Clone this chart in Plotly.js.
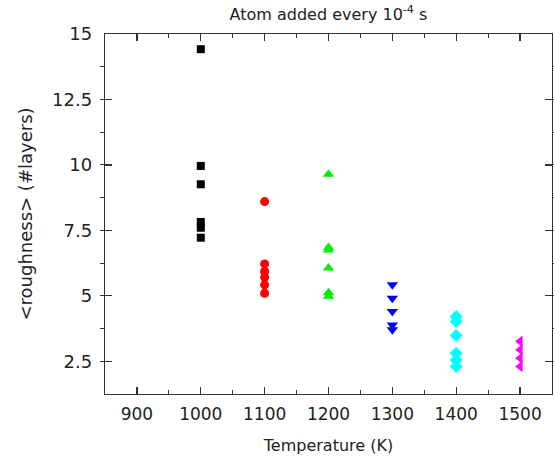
<!DOCTYPE html>
<html>
<head>
<meta charset="utf-8">
<script src="https://cdn.plot.ly/plotly-3.0.1.min.js"></script>
<style>html,body{margin:0;padding:0;background:#fff;}#chart{width:554px;height:456px;}</style>
</head>
<body>
<div id="chart"></div>
<script>
// Temperatures (K) for each series
const temps = [1000, 1100, 1200, 1300, 1400, 1500];
// roughness values (#layers)
const rough1000 = [14.42, 9.96, 9.26, 7.82, 7.6, 7.22];
const rough1100 = [8.6, 6.22, 5.93, 5.71, 5.42, 5.1];
const rough1200 = [9.64, 6.85, 6.75, 6.06, 5.12, 4.98];
const rough1300 = [5.42, 4.91, 4.4, 3.89, 3.7];
const rough1400 = [4.21, 4.02, 3.48, 2.81, 2.55, 2.3];
const rough1500 = [3.26, 2.94, 2.62, 2.3];
const xTicks = [900, 1000, 1100, 1200, 1300, 1400, 1500];
const yTicks = [2.5, 5, 7.5, 10, 12.5, 15];
const yTickText = ['2.5', '5', '7.5', '10', '12.5', '15'];

const allY = [rough1000, rough1100, rough1200, rough1300, rough1400, rough1500];
const styles = [
  {symbol: 'square', color: '#000000', size: 8},
  {symbol: 'circle', color: '#ff0000', size: 9},
  {symbol: 'triangle-up', color: '#00ee00', size: 10},
  {symbol: 'triangle-down', color: '#0000ff', size: 10},
  {symbol: 'diamond', color: '#00ffff', size: 10},
  {symbol: 'triangle-left', color: '#ff00ff', size: 10}
];

const traces = allY.map((ys, i) => ({
  x: ys.map(() => temps[i]),
  y: ys,
  type: 'scatter',
  mode: 'markers',
  marker: {symbol: styles[i].symbol, color: styles[i].color, size: styles[i].size, line: {width: 0}},
  showlegend: false,
  hoverinfo: 'x+y'
}));

const font = 'DejaVu Sans, Liberation Sans, sans-serif';
const layout = {
  width: 554, height: 456,
  margin: {l: 105, r: 2, t: 34, b: 62},
  paper_bgcolor: '#fff', plot_bgcolor: '#fff',
  font: {family: font, color: '#222'},
  title: {text: 'Atom added every 10<sup>-4</sup> s', font: {size: 16, family: font, color: '#222'}, xref: 'paper', x: 0.5, xanchor: 'center', y: 0.968, yanchor: 'middle'},
  xaxis: {
    range: [850, 1550],
    tickvals: xTicks,
    ticktext: xTicks.map(String),
    ticks: 'inside', ticklen: 7, tickwidth: 1.2, tickcolor: '#333',
    minor: {dtick: 50, tick0: 850, ticks: 'inside', ticklen: 4, tickcolor: '#333', tickwidth: 1},
    showline: true, linecolor: '#333', linewidth: 1.3, mirror: 'allticks',
    showgrid: false, zeroline: false,
    tickfont: {size: 17, family: font, color: '#222'},
    ticklabelstandoff: 4,
    title: {text: 'Temperature (K)', font: {size: 16, family: font, color: '#222'}, standoff: 17}
  },
  yaxis: {
    range: [1.25, 15],
    tickvals: yTicks,
    ticktext: yTickText,
    ticks: 'inside', ticklen: 7, tickwidth: 1.2, tickcolor: '#333',
    minor: {dtick: 1.25, tick0: 1.25, ticks: 'outside', ticklen: 4, tickcolor: '#333', tickwidth: 1},
    showline: true, linecolor: '#333', linewidth: 1.3, mirror: 'allticks',
    showgrid: false, zeroline: false,
    tickfont: {size: 18, family: font, color: '#222'},
    ticklabelstandoff: 8,
    title: {text: '&lt;roughness&gt; (#layers)', font: {size: 18, family: font, color: '#222'}, standoff: 14}
  }
};

Plotly.newPlot('chart', traces, layout, {displayModeBar: false, staticPlot: true});
</script>
</body>
</html>
